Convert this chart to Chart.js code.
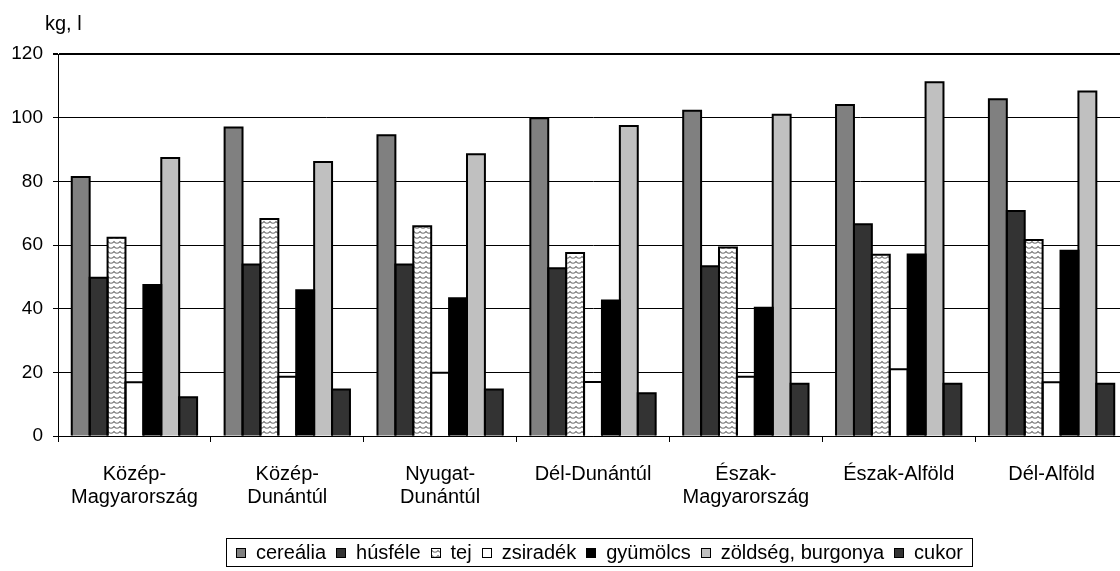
<!DOCTYPE html>
<html>
<head>
<meta charset="utf-8">
<script src="https://cdn.jsdelivr.net/npm/chart.js@4/dist/chart.umd.min.js"></script>
<style>
  html, body { margin: 0; padding: 0; overflow: hidden; background: #fff; }
  body { width: 1120px; height: 571px; position: relative; font-family: "Liberation Sans", Arial, sans-serif; }
  #wrap { position: absolute; left: 0; top: 0; width: 1135px; height: 571px; }
  #unit { position: absolute; left: 45px; top: 12px; font-size: 20px; color: #000; }
  #legend { position: absolute; left: 226px; top: 538px; height: 27px; border: 1px solid #000;
            display: flex; align-items: center; padding: 0 9px; font-size: 20px; color: #000; white-space: nowrap; }
  #legend .item { display: flex; align-items: center; margin-right: 10px; }
  #legend .item:last-child { margin-right: 0; }
  #legend .sw { width: 8px; height: 8px; border: 1px solid #000; margin-right: 10px; }
</style>
</head>
<body>
<div id="wrap"><canvas id="chart"></canvas></div>
<div id="unit">kg, l</div>
<div id="legend"></div>
<script>
// regions (x axis)
const regions = [
  ['Közép-', 'Magyarország'],
  ['Közép-', 'Dunántúl'],
  ['Nyugat-', 'Dunántúl'],
  'Dél-Dunántúl',
  ['Észak-', 'Magyarország'],
  'Észak-Alföld',
  'Dél-Alföld'
];

// yearly consumption per head, kg or litre
const cerealia  = [81.4, 96.9, 94.5, 99.8, 102.2, 104.0, 105.8];
const husfele   = [49.7, 53.9, 53.9, 52.7, 53.3, 66.5, 70.7];
const tej       = [62.3, 68.2, 65.9, 57.5, 59.2, 56.9, 61.6];
const zsiradek  = [16.9, 18.6, 19.9, 17.0, 18.6, 21.0, 16.9];
const gyumolcs  = [47.4, 45.8, 43.3, 42.6, 40.3, 57.0, 58.2];
const zoldseg   = [87.3, 86.1, 88.5, 97.4, 100.9, 111.1, 108.2];
const cukor     = [12.2, 14.6, 14.6, 13.4, 16.4, 16.4, 16.4];

const yTicks = [0, 20, 40, 60, 80, 100, 120];

const FONT = '"Liberation Sans", Arial, sans-serif';

// wavy fill used for "tej"
function makeWaveCanvas() {
    const c = document.createElement('canvas');
    c.width = 6; c.height = 5;
    const g = c.getContext('2d');
    g.fillStyle = '#fff';
    g.fillRect(0, 0, 6, 5);
    g.strokeStyle = '#777';
    g.lineWidth = 1.2;
    g.beginPath();
    g.moveTo(-1, 0.5);
    g.quadraticCurveTo(3, 6, 7, 0.5);
    g.stroke();
    return c;
}

const waveCanvas = makeWaveCanvas();
const ctx = document.getElementById('chart').getContext('2d');
const wave = ctx.createPattern(waveCanvas, 'repeat');

const series = [
    { label: 'cereália', data: cerealia, fill: '#808080' },
    { label: 'húsféle', data: husfele, fill: '#333333' },
    { label: 'tej', data: tej, fill: wave, swatch: 'url(' + waveCanvas.toDataURL() + ')' },
    { label: 'zsiradék', data: zsiradek, fill: '#ffffff' },
    { label: 'gyümölcs', data: gyumolcs, fill: '#000000' },
    { label: 'zöldség, burgonya', data: zoldseg, fill: '#c0c0c0' },
    { label: 'cukor', data: cukor, fill: '#333333' }
];

// Excel-like outlines: stroke centred on the bar edges so neighbours share one line
const barOutline = {
    id: 'barOutline',
    afterDatasetsDraw(chart) {
        const c = chart.ctx;
        c.save();
        c.strokeStyle = '#000';
        c.lineWidth = 2;
        c.lineJoin = 'miter';
        chart.data.datasets.forEach((ds, i) => {
            chart.getDatasetMeta(i).data.forEach(bar => {
                const l = bar.x - bar.width / 2, r = bar.x + bar.width / 2;
                c.beginPath();
                c.moveTo(l, bar.base);
                c.lineTo(l, bar.y);
                c.lineTo(r, bar.y);
                c.lineTo(r, bar.base);
                c.stroke();
            });
        });
        c.restore();
    }
};

const chart = new Chart(ctx, {
    type: 'bar',
    data: {
        labels: regions,
        datasets: series.map(s => ({
            label: s.label,
            data: s.data,
            backgroundColor: s.fill,
            borderWidth: 0,
            categoryPercentage: 0.82,
            barPercentage: 1.0
        }))
    },
    options: {
        responsive: true,
        maintainAspectRatio: false,
        animation: false,
        layout: { padding: { left: 0, top: 54, right: 7, bottom: 55 } },
        plugins: {
            legend: { display: false },
            tooltip: { enabled: false }
        },
        scales: {
            x: {
                grid: { display: true, drawOnChartArea: false, drawTicks: true, tickLength: 6, offset: true, color: '#000', lineWidth: 1 },
                border: { display: true, color: '#000', width: 1 },
                ticks: { color: '#000', padding: 21, maxRotation: 0, autoSkip: false,
                         font: { family: FONT, size: 20, lineHeight: 1.15 } },
                afterFit: s => { s.height = 80; }
            },
            y: {
                min: 0,
                max: 120,
                afterBuildTicks: s => { s.ticks = yTicks.map(v => ({ value: v })); },
                grid: { color: '#000', lineWidth: c => (c.tick && c.tick.value === 120 ? 2 : 1), tickLength: 5, drawTicks: true },
                border: { display: true, color: '#000', width: 1 },
                ticks: { color: '#000', padding: 10, font: { family: FONT, size: 19 } },
                afterFit: s => { s.width = 58; }
            }
        }
    },
    plugins: [barOutline]
});

// legend below the plot
const legend = document.getElementById('legend');
series.forEach(s => {
    const item = document.createElement('div');
    item.className = 'item';
    const sw = document.createElement('span');
    sw.className = 'sw';
    if (s.swatch) sw.style.backgroundImage = s.swatch;
    else sw.style.background = s.fill;
    const txt = document.createElement('span');
    txt.textContent = s.label;
    item.appendChild(sw);
    item.appendChild(txt);
    legend.appendChild(item);
});
</script>
</body>
</html>
